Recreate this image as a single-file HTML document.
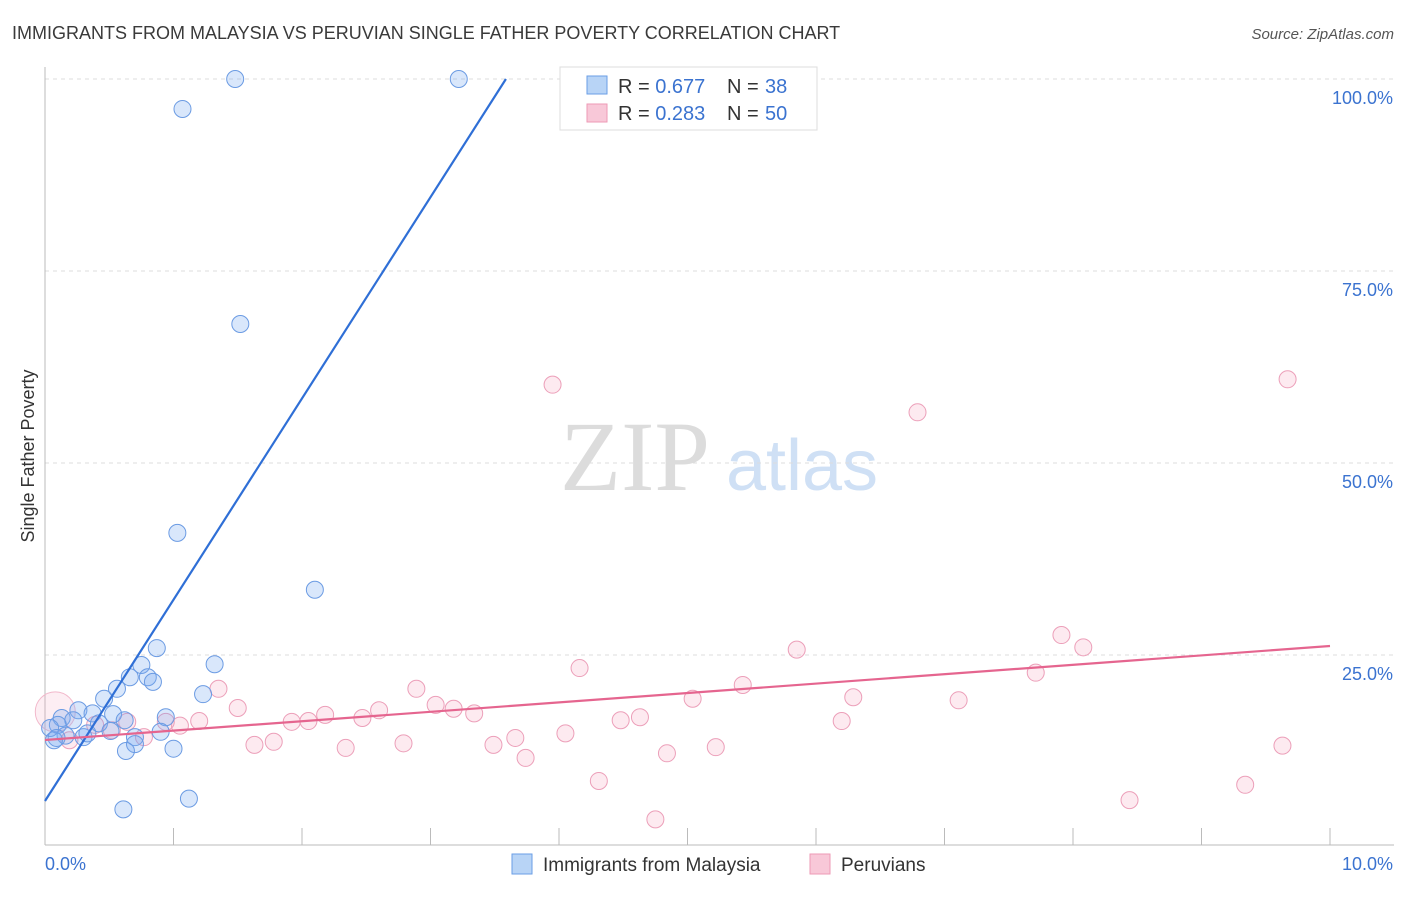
<!DOCTYPE html>
<html><head><meta charset="utf-8"><style>
body{margin:0;background:#fff;font-family:"Liberation Sans",sans-serif}
svg text{font-family:"Liberation Sans",sans-serif}
</style></head><body>
<svg id="c" width="1406" height="892" xmlns="http://www.w3.org/2000/svg">
<text x="12" y="39" font-size="18" fill="#3a3a3a">IMMIGRANTS FROM MALAYSIA VS PERUVIAN SINGLE FATHER POVERTY CORRELATION CHART</text>
<text x="1394" y="39" font-size="15" fill="#555" text-anchor="end" font-style="italic">Source: ZipAtlas.com</text>
<g>
<text x="635" y="490" font-size="100" fill="#dcdcdc" text-anchor="middle" style="font-family:'Liberation Serif',serif">ZIP</text>
<text x="802" y="490" font-size="72" fill="#cfe0f5" text-anchor="middle">atlas</text>
</g>
<g id="grid"></g>
<g id="axes"></g>
<text transform="translate(34,456) rotate(-90)" font-size="18" fill="#333" text-anchor="middle">Single Father Poverty</text>
<g id="marks"></g>
<g id="lines"></g>
<g>
<rect x="560" y="67" width="257" height="63" fill="#fff" stroke="#ddd"/>
<rect x="587" y="76" width="20" height="18" fill="#b8d4f6" stroke="#6a9ee6"/>
<rect x="587" y="104" width="20" height="18" fill="#f8c8d8" stroke="#ee9ab6"/>
<text x="618" y="93" font-size="20" fill="#333">R = <tspan fill="#3b73d0">0.677</tspan><tspan x="727">N = </tspan><tspan fill="#3b73d0" x="765">38</tspan></text>
<text x="618" y="120" font-size="20" fill="#333">R = <tspan fill="#3b73d0">0.283</tspan><tspan x="727">N = </tspan><tspan fill="#3b73d0" x="765">50</tspan></text>
</g>
<g>
<rect x="512" y="854" width="20" height="20" fill="#b8d4f6" stroke="#6a9ee6"/>
<text x="543" y="871" font-size="19" fill="#333">Immigrants from Malaysia</text>
<rect x="810" y="854" width="20" height="20" fill="#f8c8d8" stroke="#ee9ab6"/>
<text x="841" y="871" font-size="19" fill="#333">Peruvians</text>
</g>
</svg>
<script>
const blueX=[1.48,3.22,1.07,1.52,1.03,2.10,0.87,1.32,0.75,0.66,0.80,0.84,0.56,1.23,0.46,0.26,0.37,0.53,0.94,0.13,0.22,0.62,0.42,0.10,0.04,0.51,0.90,0.70,0.30,0.16,0.07,0.70,0.63,1.00,0.61,1.12,0.09,0.33];
const blueY=[100,100,96.1,68.1,40.9,33.5,25.9,23.8,23.7,22.1,22.1,21.5,20.6,19.9,19.3,17.8,17.4,17.3,16.9,16.8,16.5,16.5,16.1,15.9,15.5,15.1,15.0,14.3,14.3,14.5,13.9,13.4,12.5,12.8,4.9,6.3,14.2,14.8];
const pinkX=[3.95,9.67,6.79,5.85,7.91,8.08,4.16,7.71,1.35,5.43,6.29,2.89,5.04,7.11,1.50,2.60,3.04,3.18,3.34,2.18,2.47,1.92,2.05,1.20,1.05,0.64,0.94,6.20,4.48,4.63,4.05,3.66,0.77,2.79,3.49,5.22,2.34,1.78,1.63,4.84,3.74,9.63,4.31,8.44,9.34,4.75,0.08,0.52,0.19,0.39];
const pinkY=[60.2,60.9,56.6,25.7,27.6,26.0,23.3,22.7,20.6,21.1,19.5,20.6,19.3,19.1,18.1,17.8,18.5,18.0,17.4,17.2,16.8,16.3,16.4,16.4,15.8,16.3,16.3,16.4,16.5,16.9,14.8,14.2,14.3,13.5,13.3,13.0,12.9,13.7,13.3,12.2,11.6,13.2,8.6,6.1,8.1,3.6,17.6,15.2,13.9,15.9];
const blueLine=[[0,5.99],[3.587,100]];
const pinkLine=[[0,13.93],[10,26.17]];
const yTicks=[25,50,75,100];
const yTickLabels=["25.0%","50.0%","75.0%","100.0%"];
const xTicks=[0,1,2,3,4,5,6,7,8,9,10];
const X=v=>45+v*128.5, Y=v=>847-v*7.68;
const NS="http://www.w3.org/2000/svg";
function mk(t,a,p){const e=document.createElementNS(NS,t);for(const k in a)e.setAttribute(k,a[k]);p.appendChild(e);return e;}
const grid=document.getElementById('grid'),axes=document.getElementById('axes'),marks=document.getElementById('marks'),lines=document.getElementById('lines');
yTicks.forEach((t,i)=>{
 const g=mk('line',{x1:45,x2:1394,y1:Y(t),y2:Y(t),stroke:'#ddd','stroke-dasharray':'4,4'},grid);
 
 
 const l=mk('text',{x:1393,y:Y(t)+25,'font-size':18,fill:'#3b73d0','text-anchor':'end'},axes);
 l.textContent=yTickLabels[i];
 
 
});
const al=mk('line',{x1:45,x2:45,y1:67,y2:845,stroke:'#bbb'},axes);


const bl=mk('line',{x1:45,x2:1394,y1:845,y2:845,stroke:'#bbb'},axes);


xTicks.forEach(t=>{
 const k=mk('line',{x1:X(t),x2:X(t),y1:828,y2:845,stroke:'#bbb'},axes);
 
 
});
const x0=mk('text',{x:45,y:870,'font-size':18,fill:'#3b73d0'},axes);x0.textContent="0.0%";


const x1=mk('text',{x:1393,y:870,'font-size':18,fill:'#3b73d0','text-anchor':'end'},axes);x1.textContent="10.0%";


pinkX.forEach((v,i)=>{
 const big=(i==46);
 const c=mk('circle',{cx:X(v),cy:Y(pinkY[i]),r:big?20:8.5,fill:big?'rgba(246,170,196,0.2)':'rgba(246,170,196,0.25)',stroke:big?'#f2b8cb':'#ec9fb9','stroke-width':1},marks);
 
 
});
blueX.forEach((v,i)=>{
 const c=mk('circle',{cx:X(v),cy:Y(blueY[i]),r:8.5,fill:'rgba(120,170,240,0.28)',stroke:'#6b9be3','stroke-width':1},marks);
 
 
});
const b=mk('line',{x1:X(blueLine[0][0]),y1:Y(blueLine[0][1]),x2:X(blueLine[1][0]),y2:Y(blueLine[1][1]),stroke:'#2f6fd6','stroke-width':2.2},lines);


const p=mk('line',{x1:X(pinkLine[0][0]),y1:Y(pinkLine[0][1]),x2:X(pinkLine[1][0]),y2:Y(pinkLine[1][1]),stroke:'#e5658f','stroke-width':2.2},lines);


</script>
</body></html>
